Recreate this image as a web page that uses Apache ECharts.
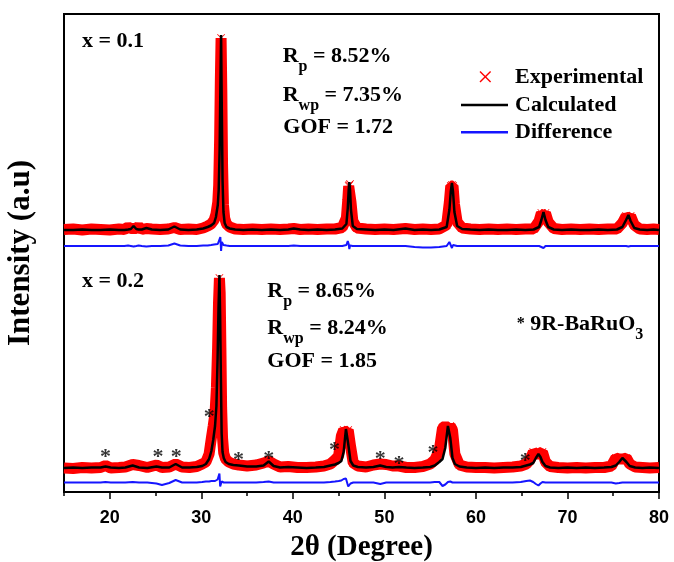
<!DOCTYPE html>
<html>
<head>
<meta charset="utf-8">
<title>XRD Rietveld refinement</title>
<script src="https://cdn.jsdelivr.net/npm/echarts@6.0.0/dist/echarts.min.js"></script>
<style>
  html, body { margin: 0; padding: 0; background: #fff; }
  #main { width: 674px; height: 562px; }
</style>
</head>
<body>
<div id="main"></div>
<script>
// x = 0.1 pattern (2theta, intensities above its own baseline, a.u.)
const tth01 = [
  15, 16, 17, 18, 19, 20, 21, 21.6, 22.0, 22.3,
  22.6, 22.9, 23.15, 23.5, 24.0, 24.6, 25.5, 26.4, 27.06, 27.7,
  28.6, 29.5, 30.2, 30.7, 31.07, 31.4, 31.6, 31.8, 31.9, 32.0,
  32.08, 32.16, 32.24, 32.32, 32.42, 32.55, 32.75, 33.1, 33.7, 34.6,
  35.6, 36.6, 37.6, 38.6, 39.5, 40.1, 40.8, 41.7, 42.7, 43.7,
  44.6, 45.4, 45.85, 46.0, 46.1, 46.17, 46.25, 46.35, 46.55, 47.0,
  48.0, 49.0, 50.0, 51.0, 52.3, 53.3, 54.2, 55.1, 56.0, 56.8,
  57.1, 57.25, 57.38, 57.5, 57.65, 57.95, 58.5, 59.4, 60.4, 61.4,
  62.4, 63.4, 64.4, 65.4, 66.3, 66.9, 67.15, 67.38, 67.6, 67.9,
  68.5, 69.4, 70.4, 71.4, 72.4, 73.4, 74.4, 75.4, 76.0, 76.4,
  76.66, 76.9, 77.3, 77.9, 78.7, 79.4, 80
];
const calc01 = [
  0, 0, 0.5, 0, 0, 0.5, 0, 0, 0.5, 1,
  4, 1, 0.5, 0.5, 2, 0.5, 0, 0.5, 3.5, 0.5,
  0, 0.5, 1.5, 3, 4.5, 7, 13, 25, 40, 80,
  140, 195, 120, 50, 18, 7, 3, 1.5, 0.5, 0,
  0.5, 0, 0.5, 0, 0.5, 1.5, 0.5, 0, 0.5, 0,
  0.5, 1.5, 6, 22, 40, 48, 40, 20, 4, 1,
  0.5, 0, 0.5, 0, 1.5, 0, 0.5, 0, 0.5, 3,
  20, 38, 47, 38, 18, 4, 1, 0.5, 0, 0.5,
  0, 0, 0.5, 0, 0.5, 3, 10, 18, 10, 3,
  0.5, 0, 0.5, 0, 0, 0.5, 0, 0.5, 3, 10,
  15, 9, 2, 0.5, 0, 0.5, 0
];
const expt01 = [
  0.5, 1, 0, 1, 0.5, 0, 1, 0.5, 3, 1.5,
  1.5, 1.5, 3.5, 0.5, 1.5, 1, 0.5, 1, 2.5, 0.5,
  1, 0.5, 2, 4, 6, 10, 16, 28, 45, 90,
  150, 192, 140, 65, 25, 12, 6, 3, 1, 0.5,
  1, 0.5, 1, 0.5, 1, 1.5, 0.5, 1, 0.5, 1,
  1, 2.5, 12, 30, 44, 45, 46, 28, 9, 2,
  1, 0.5, 1, 0.5, 1.5, 0.5, 1, 0.5, 1, 5,
  28, 44, 45, 44, 26, 8, 2, 1, 0.5, 1,
  0.5, 1, 0.5, 1, 1, 9, 17, 15, 17, 8,
  1.5, 0.5, 1, 0.5, 1, 0.5, 1, 1, 7, 14,
  12, 14, 5, 1, 0.5, 1, 0.5
];
const diff01 = [
  0, 0, 0, 0, 0, 0, 0, 0, 0.5, 0,
  -0.5, 0, 0.5, 0, -0.5, 0, 0, 0.5, 2.5, 0.5,
  0, 0, 0.5, 0.5, 1, 1.5, 1.5, 2, 2, 4,
  9, -5, 4, 2, 1, 1, 0.5, 0, 0, 0,
  0, 0, 0, 0, 0, 0.5, 0, 0, 0, 0,
  0, 0, 1, 5, 2, -3, 0.5, 0, 0, 0,
  0, 0, 0, 0, 0, -1, -1.5, -1.5, -1, 0,
  4, 3, -2, 1, 0.5, 0, 0, 0, 0, 0,
  0, 0, 0, 0, 0, 0, -1, -2, 0, 0,
  0, 0, 0, 0, 0, 0, 0, 0, 0, 0,
  -0.5, 0, 0, 0, 0, 0, 0
];

// x = 0.2 pattern
const tth02 = [
  15, 16, 17, 18, 19, 19.53, 20.1, 21, 21.7, 22.5,
  23.2, 24.1, 25.1, 25.7, 26.5, 27.2, 27.9, 28.7, 29.5, 30.1,
  30.5, 30.85, 31.1, 31.3, 31.5, 31.65, 31.78, 31.88, 31.98, 32.06,
  32.14, 32.22, 32.32, 32.45, 32.65, 33.0, 33.5, 34.1, 35.0, 36.0,
  36.8, 37.36, 37.9, 38.6, 39.5, 40.5, 41.5, 42.5, 43.4, 44.1,
  44.6, 45.0, 45.3, 45.55, 45.8, 46.05, 46.3, 46.6, 47.1, 48.0,
  48.8, 49.55, 50.2, 50.9, 51.6, 52.4, 53.3, 54.2, 55.0, 55.5,
  56.0, 56.35, 56.65, 56.94, 57.2, 57.44, 57.7, 58.2, 59.0, 60.0,
  61.0, 62.0, 63.0, 64.0, 64.9, 65.5, 65.9, 66.26, 66.55, 66.83,
  67.05, 67.27, 67.6, 68.1, 69.0, 70.0, 71.0, 72.0, 73.0, 74.0,
  74.8, 75.28, 75.65, 76.0, 76.44, 76.8, 77.4, 78.2, 79.0, 80
];
const calc02 = [
  0, 0.5, 0, 0.5, 0.5, 1.5, 0.5, 0, 0.5, 2.5,
  0.5, 0, 1.5, 0.5, 0.5, 4, 0.5, 0.5, 1, 2,
  4, 9, 17, 28, 42, 62, 110, 160, 193, 150,
  90, 35, 16, 10, 6, 4, 3, 2.5, 1.5, 1.5,
  2.5, 6.5, 2, 0.5, 1, 0.5, 0, 0.5, 1, 2.5,
  3.5, 5, 7, 16, 39, 24, 7, 2.5, 1, 0.5,
  1, 2.5, 1, 0.5, 1, 0.5, 0, 0.5, 1, 2.5,
  6, 9, 20, 42, 30, 10, 4, 1.5, 0.5, 0,
  0.5, 0, 0.5, 0.5, 1, 2.5, 3.5, 5, 10, 14,
  11, 6, 2, 0.5, 0, 0.5, 0, 0.5, 0, 0.5,
  1, 2.5, 6, 10, 6, 2, 0.5, 0, 0.5, 0
];
const expt02 = [
  0, -0.5, 0.5, 0, 0.5, 2.5, 0, 0.5, 1, 3.5,
  2.5, 0.5, 3, 0.5, 1, 4, 1, 0.5, 1.5, 4,
  6, 14, 30, 42, 55, 80, 120, 165, 190, 175,
  120, 60, 30, 15, 9, 6, 4, 3, 2, 3,
  5, 7, 4, 1, 1.5, 0.5, 0.5, 1, 2, 4,
  8, 12, 32, 38, 36, 38, 22, 5, 2, 1,
  3, 4, 3.5, 2, 2, 0.5, 0.5, 1.5, 4, 8,
  18, 40, 42, 40, 42, 38, 14, 3, 1, 0.5,
  0.5, 0, 0.5, 1, 2, 4, 8, 16, 14, 14,
  15, 16, 6, 1.5, 0.5, 0, 0.5, 0, 0.5, 0.5,
  2, 10, 9, 9, 10, 4, 1, 0.5, 0, 0.5
];
const diff02 = [
  0, 0, 0, 0, 0, 0.5, 0, 0, 0, 0.5,
  0, 0, -1, -2.5, -0.5, 2.5, 0, 0, 0, 0.5,
  1, 1, 1.5, 1.5, 1.5, 2, 3, 4, 9, -4,
  -2, 1, 0.5, 0, 0, 0, 0, 0, 0, 0,
  0.5, 1, 0, 0, 0, 0, 0, 0, 0, 0.5,
  1, 1.5, 2, 3.5, 4, -4, -1, 0, 0, 0,
  0, -1.5, 0, 0, 0, 0, 0, 0, 0, 0.5,
  0.5, -3.5, -2, 0.5, 1, 0, 0, 0, 0, 0,
  0, 0, 0, 0, 0.5, 1.5, 2, 0.5, -1.5, -3,
  -1, 0.5, 0, 0, 0, 0, 0, 0, 0, 0,
  0, -1, -0.5, 0, 0, 0, 0, 0, 0, 0
];

// 9R-BaRuO3 impurity reflections (x = 0.2)
const starX = [19.53, 25.28, 27.25, 30.88, 34.05, 37.36, 44.56, 49.55, 51.6, 55.3, 65.4];
const starY = [15.7, 15.7, 15.7, 55.7, 12.3, 14, 22.3, 14, 9, 19.7, 11.3];

const majorTicks = [20, 30, 40, 50, 60, 70, 80];
const minorTicks = [15, 25, 35, 45, 55, 65, 75];

// vertical stacking of the patterns
const OFF_TOP = 262, OFF_TOP_DIFF = 246, OFF_BOT = 24, OFF_BOT_DIFF = 9.5;

const serif = "'Liberation Serif','Times New Roman',serif";
const CROSS = 'path://M0,0.7L0.7,0L5,4.3L9.3,0L10,0.7L5.7,5L10,9.3L9.3,10L5,5.7L0.7,10L0,9.3L4.3,5Z';

function pts(xs, ys, off) {
  return xs.map(function (x, i) { return [x, ys[i] + off]; });
}

function expSeries(data) {
  return {
    name: 'Experimental', type: 'line', data: data,
    symbol: CROSS, showAllSymbol: true,
    symbolSize: function (v) { return (v[0] <= 15 || v[0] >= 80) ? 0 : 8; },
    itemStyle: { color: '#ff0000' },
    lineStyle: { color: '#ff0000', width: 11 },
    z: 1, silent: true
  };
}
function lineSeries(name, data, color, width, z) {
  return {
    name: name, type: 'line', data: data, symbol: 'none',
    lineStyle: { color: color, width: width }, z: z, silent: true
  };
}

const main = { fill: '#000', fontFamily: serif, fontWeight: 'bold', fontSize: 22, lineHeight: 24 };
const sub = { fill: '#000', fontFamily: serif, fontWeight: 'bold', fontSize: 16, padding: [21, 0, 0, 0] };

function txt(x, y, text) {
  return {
    type: 'text', x: x, y: y, z: 10,
    style: { text: text, fill: '#000', verticalAlign: 'middle', align: 'left',
      rich: { m: main, s: sub, a: { fill: '#000', fontFamily: serif, fontWeight: 'bold', fontSize: 16 } } }
  };
}

var chart = echarts.init(document.getElementById('main'), null, { renderer: 'canvas' });

var option = {
  backgroundColor: '#fff',
  animation: false,
  grid: {
    left: 64, right: 15, top: 14, bottom: 70,
    outerBoundsMode: 'none', containLabel: false,
    show: true, borderColor: '#000', borderWidth: 2, backgroundColor: 'transparent'
  },
  xAxis: [
    {
      type: 'value', min: 15, max: 80, interval: 5,
      axisLine: { show: true, lineStyle: { color: '#000', width: 2 } },
      axisTick: { show: true, customValues: majorTicks, length: 7, lineStyle: { color: '#000', width: 1.5 } },
      axisLabel: {
        customValues: majorTicks, margin: 17, color: '#000',
        fontSize: 18, fontWeight: 'bold', fontFamily: "'Liberation Sans Narrow','Liberation Sans',Arial,sans-serif"
      },
      splitLine: { show: false },
      name: '2θ (Degree)', nameLocation: 'middle', nameGap: 41,
      nameTextStyle: { color: '#000', fontSize: 29, fontWeight: 'bold', fontFamily: serif }
    },
    {
      type: 'value', min: 15, max: 80, interval: 5, position: 'bottom',
      axisLine: { show: false },
      axisTick: { show: true, customValues: minorTicks, length: 4, lineStyle: { color: '#000', width: 1.5 } },
      axisLabel: { show: false },
      splitLine: { show: false }
    }
  ],
  yAxis: {
    type: 'value', min: 0, max: 478,
    axisLine: { show: true, lineStyle: { color: '#000', width: 2 } },
    axisTick: { show: false },
    axisLabel: { show: false },
    splitLine: { show: false },
    name: 'Intensity (a.u)', nameLocation: 'middle', nameGap: 28,
    nameTextStyle: { color: '#000', fontSize: 31, fontWeight: 'bold', fontFamily: serif }
  },
  series: [
    expSeries(pts(tth01, expt01, OFF_TOP)),
    expSeries(pts(tth02, expt02, OFF_BOT)),
    lineSeries('Calculated', pts(tth01, calc01, OFF_TOP), '#000', 2.5, 3),
    lineSeries('Calculated', pts(tth02, calc02, OFF_BOT), '#000', 2.5, 3),
    lineSeries('Difference', pts(tth01, diff01, OFF_TOP_DIFF), '#1515ff', 2, 2),
    lineSeries('Difference', pts(tth02, diff02, OFF_BOT_DIFF), '#1515ff', 2, 2),
    {
      name: '9R-BaRuO3', type: 'scatter', data: pts(starX, starY, OFF_BOT),
      symbol: 'circle', symbolSize: 1, itemStyle: { color: 'transparent' },
      label: {
        show: true, position: 'inside', formatter: '*', offset: [0, 5],
        color: '#000', fontSize: 22, fontWeight: 'bold', fontFamily: serif
      },
      z: 5, silent: true
    }
  ],
  graphic: [
    txt(82, 41.6, '{m|x = 0.1}'),
    txt(282.7, 56, '{m|R}{s|p}{m| = 8.52%}'),
    txt(282.7, 95, '{m|R}{s|wp}{m| = 7.35%}'),
    txt(283.3, 127.6, '{m|GOF = 1.72}'),

    // legend
    { type: 'line', shape: { x1: 480, y1: 71.4, x2: 490.6, y2: 82 }, style: { stroke: '#ff0000', lineWidth: 1.4 } },
    { type: 'line', shape: { x1: 480, y1: 82, x2: 490.6, y2: 71.4 }, style: { stroke: '#ff0000', lineWidth: 1.4 } },
    txt(515, 77, '{m|Experimental}'),
    { type: 'line', shape: { x1: 461, y1: 105, x2: 508, y2: 105 }, style: { stroke: '#000', lineWidth: 2.5 } },
    txt(515, 105, '{m|Calculated}'),
    { type: 'line', shape: { x1: 461, y1: 132.3, x2: 508, y2: 132.3 }, style: { stroke: '#1515ff', lineWidth: 2.5 } },
    txt(515, 132.6, '{m|Difference}'),

    txt(82, 281.6, '{m|x = 0.2}'),
    txt(267.3, 291, '{m|R}{s|p}{m| = 8.65%}'),
    txt(267.3, 328.3, '{m|R}{s|wp}{m| = 8.24%}'),
    txt(267.3, 361.6, '{m|GOF = 1.85}'),
    txt(516.7, 324.3, '{a|*}{m| 9R-BaRuO}{s|3}')
  ]
};
chart.setOption(option);
</script>
</body>
</html>
